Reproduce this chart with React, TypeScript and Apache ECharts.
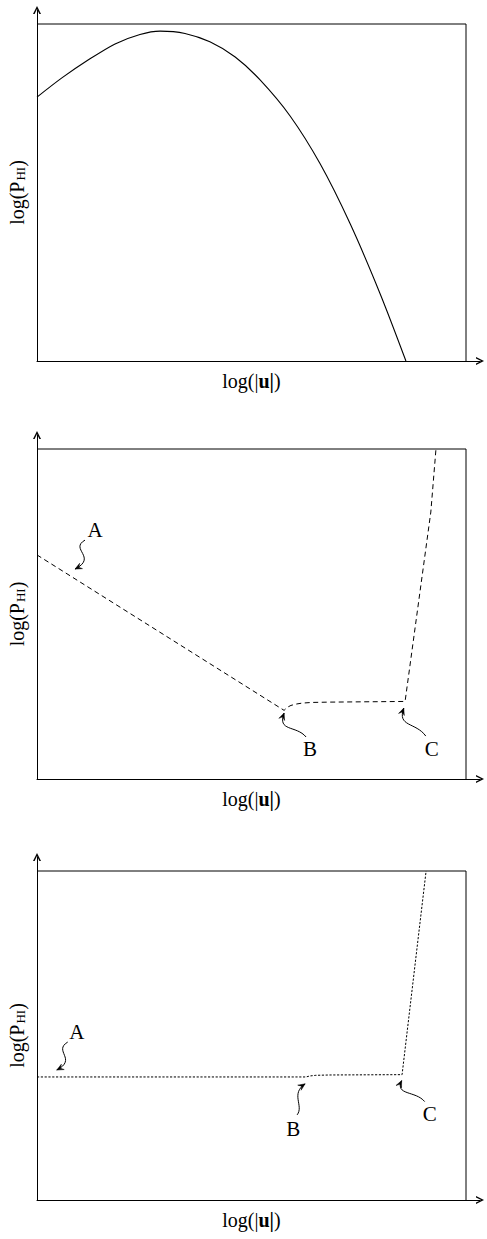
import React, { useEffect, useRef } from "react";
import * as echarts from "echarts";

const W = 487;
const H = 1239;
const FONT = '"Liberation Serif", "DejaVu Serif", serif';

// ---- data (arbitrary log units; the frame spans 0..10 on both axes) ----
// Panel 1: solid curve
const p1X = [0, 0.58, 1.19, 1.82, 2.4, 2.87, 3.45, 4.03, 4.62, 5.2, 5.9, 6.6, 7.3, 8.0, 8.6];
const p1Y = [7.83, 8.4, 8.93, 9.41, 9.69, 9.79, 9.72, 9.47, 9.02, 8.34, 7.27, 5.85, 4.07, 1.99, 0];
// Panel 2: dashed curve (A -> B -> C -> up)
const p2X = [0, 5.76, 5.83, 5.92, 6.04, 6.18, 6.41, 6.83, 8.58, 9.18, 9.3];
const p2Y = [6.79, 2.08, 2.17, 2.23, 2.27, 2.3, 2.32, 2.33, 2.35, 8.09, 10];
// Panel 3: dotted curve
const p3X = [0, 6.27, 6.36, 6.5, 6.83, 8.51, 9.07];
const p3Y = [3.74, 3.74, 3.77, 3.79, 3.8, 3.81, 10];
// frame (top and right sides of the box)
const frameX = [0, 10, 10];
const frameY = [10, 10, 0];

const xAxisName = "{n|log(|}{b|u|}{n|)}";
const yAxisName = "{n|log(P}{s|HI}{n|)}";

// annotation labels and the curve point each arrow points at (data coords)
const annotLabels = ["A", "B", "C", "A", "B", "C"];
const annotGrid = [1, 1, 1, 2, 2, 2];
const annotAtX = [0.886, 5.76, 8.55, 0.46, 6.25, 8.5];
const annotAtY = [6.36, 2.0, 2.15, 3.95, 3.53, 3.63];

// ---- layout (pixels) ----
const LEFT = 37;
const BOX_RIGHT = 466;
const ARROW_X = 480;
const PANELS = [
  { arrowTop: 10, boxTop: 24, axisY: 361 },
  { arrowTop: 435, boxTop: 449, axisY: 779 },
  { arrowTop: 857, boxTop: 871, axisY: 1200 },
];
// arrow shapes relative to the pointed point (pixels)
const ANNOT_SHAPES = [
  { start: [10, -29], c1: [-6, -20], c2: [23, -12], text: [20, -39] },
  { start: [22, 24], c1: [12, 12], c2: [-7, 19], text: [26, 36] },
  { start: [22, 28], c1: [12, 14], c2: [-7, 19], text: [28, 41] },
  { start: [11, -28], c1: [-4, -19], c2: [21, -11], text: [20, -38] },
  { start: [-8, 31], c1: [-1, 22], c2: [-15, 10], text: [-12, 45] },
  { start: [23, 21], c1: [14, 10], c2: [-7, 15], text: [28, 33] },
];

const CHEVRON = "path://M5,0 L10,10 L8,10 L5,3.6 L2,10 L0,10 Z";

function buildOption() {
  const grids: any[] = [];
  const xAxes: any[] = [];
  const yAxes: any[] = [];
  PANELS.forEach((p, i) => {
    const xScale = (BOX_RIGHT - LEFT) / 10;
    const yScale = (p.axisY - p.boxTop) / 10;
    grids.push({
      left: LEFT,
      top: p.arrowTop,
      width: ARROW_X - LEFT,
      height: p.axisY - p.arrowTop,
      containLabel: false,
    });
    const axisCommon = {
      axisTick: { show: false },
      axisLabel: { show: false },
      splitLine: { show: false },
      axisLine: {
        show: true,
        onZero: false,
        symbol: ["none", CHEVRON],
        symbolSize: [8, 11],
        lineStyle: { color: "#000", width: 1 },
      },
    };
    xAxes.push({
      type: "value",
      gridIndex: i,
      min: 0,
      max: (ARROW_X - LEFT) / xScale,
      ...axisCommon,
    });
    yAxes.push({
      type: "value",
      gridIndex: i,
      min: 0,
      max: (p.axisY - p.arrowTop) / yScale,
      ...axisCommon,
    });
  });

  const lineBase = {
    type: "line",
    symbol: "none",
    showSymbol: false,
    silent: true,
  };
  const zip = (xs: number[], ys: number[]) => xs.map((x, i) => [x, ys[i]]);

  const series: any[] = [];
  for (let i = 0; i < 3; i++) {
    series.push({
      ...lineBase,
      xAxisIndex: i,
      yAxisIndex: i,
      data: zip(frameX, frameY),
      lineStyle: { color: "#000", width: 1 },
    });
  }
  series.push({
    ...lineBase,
    xAxisIndex: 0,
    yAxisIndex: 0,
    smooth: 0.3,
    data: zip(p1X, p1Y),
    lineStyle: { color: "#000", width: 1.1 },
  });
  series.push({
    ...lineBase,
    xAxisIndex: 1,
    yAxisIndex: 1,
    data: zip(p2X, p2Y),
    lineStyle: { color: "#000", width: 1, type: [5, 3.5] },
  });
  series.push({
    ...lineBase,
    xAxisIndex: 2,
    yAxisIndex: 2,
    data: zip(p3X, p3Y),
    lineStyle: { color: "#000", width: 1, type: [2.2, 1.6] },
  });

  return {
    animation: false,
    backgroundColor: "#fff",
    grid: grids,
    xAxis: xAxes,
    yAxis: yAxes,
    series,
  };
}

function buildGraphics(chart: any) {
  const els: any[] = [];
  // axis names
  PANELS.forEach((p) => {
    const cx = (LEFT + BOX_RIGHT) / 2;
    const cy = (p.boxTop + p.axisY) / 2;
    els.push({
      type: "text",
      x: cx,
      y: p.axisY + 20,
      silent: true,
      style: {
        text: xAxisName,
        align: "center",
        verticalAlign: "middle",
        fill: "#000",
        rich: {
          n: { fontSize: 20, fontFamily: FONT, fill: "#000" },
          b: { fontSize: 20, fontFamily: FONT, fontWeight: "bold", fill: "#000" },
        },
      },
    });
    els.push({
      type: "text",
      x: 17,
      y: cy,
      rotation: Math.PI / 2,
      silent: true,
      style: {
        text: yAxisName,
        align: "center",
        verticalAlign: "middle",
        fill: "#000",
        rich: {
          n: { fontSize: 20, fontFamily: FONT, fill: "#000", lineHeight: 20, verticalAlign: "top" },
          s: {
            fontSize: 13,
            fontFamily: FONT,
            fill: "#000",
            lineHeight: 14,
            padding: [10, 0, 0, 1],
            verticalAlign: "bottom",
          },
        },
      },
    });
  });

  // annotations
  annotLabels.forEach((label, i) => {
    const tip = chart.convertToPixel({ gridIndex: annotGrid[i] }, [annotAtX[i], annotAtY[i]]);
    const s = ANNOT_SHAPES[i];
    const tx = tip[0];
    const ty = tip[1];
    const c2x = tx + s.c2[0];
    const c2y = ty + s.c2[1];
    els.push({
      type: "bezierCurve",
      silent: true,
      shape: {
        x1: tx + s.start[0],
        y1: ty + s.start[1],
        cpx1: tx + s.c1[0],
        cpy1: ty + s.c1[1],
        cpx2: c2x,
        cpy2: c2y,
        x2: tx,
        y2: ty,
      },
      style: { stroke: "#000", lineWidth: 1, fill: null },
    });
    // arrowhead
    let dx = tx - c2x;
    let dy = ty - c2y;
    const len = Math.sqrt(dx * dx + dy * dy) || 1;
    dx /= len;
    dy /= len;
    const L = 7.5;
    const a = (24 * Math.PI) / 180;
    const rot = (ang: number) => [
      dx * Math.cos(ang) - dy * Math.sin(ang),
      dx * Math.sin(ang) + dy * Math.cos(ang),
    ];
    const r1 = rot(a);
    const r2 = rot(-a);
    els.push({
      type: "polygon",
      silent: true,
      shape: {
        points: [
          [tx, ty],
          [tx - L * r1[0], ty - L * r1[1]],
          [tx - 0.55 * L * dx, ty - 0.55 * L * dy],
          [tx - L * r2[0], ty - L * r2[1]],
        ],
      },
      style: { fill: "#000", stroke: "#000", lineWidth: 0.5 },
    });
    els.push({
      type: "text",
      x: tx + s.text[0],
      y: ty + s.text[1],
      silent: true,
      style: {
        text: label,
        align: "center",
        verticalAlign: "middle",
        fill: "#000",
        fontSize: 21,
        fontFamily: FONT,
      },
    });
  });
  return els;
}

export default function App() {
  const ref = useRef<HTMLDivElement>(null);
  useEffect(() => {
    if (!ref.current) return;
    const chart = echarts.init(ref.current, null, { renderer: "svg", width: W, height: H });
    chart.setOption(buildOption());
    chart.setOption({ graphic: buildGraphics(chart) });
    return () => chart.dispose();
  }, []);
  return (
    <div
      ref={ref}
      style={{ position: "fixed", left: 0, top: 0, width: W, height: H, background: "#fff" }}
    />
  );
}
